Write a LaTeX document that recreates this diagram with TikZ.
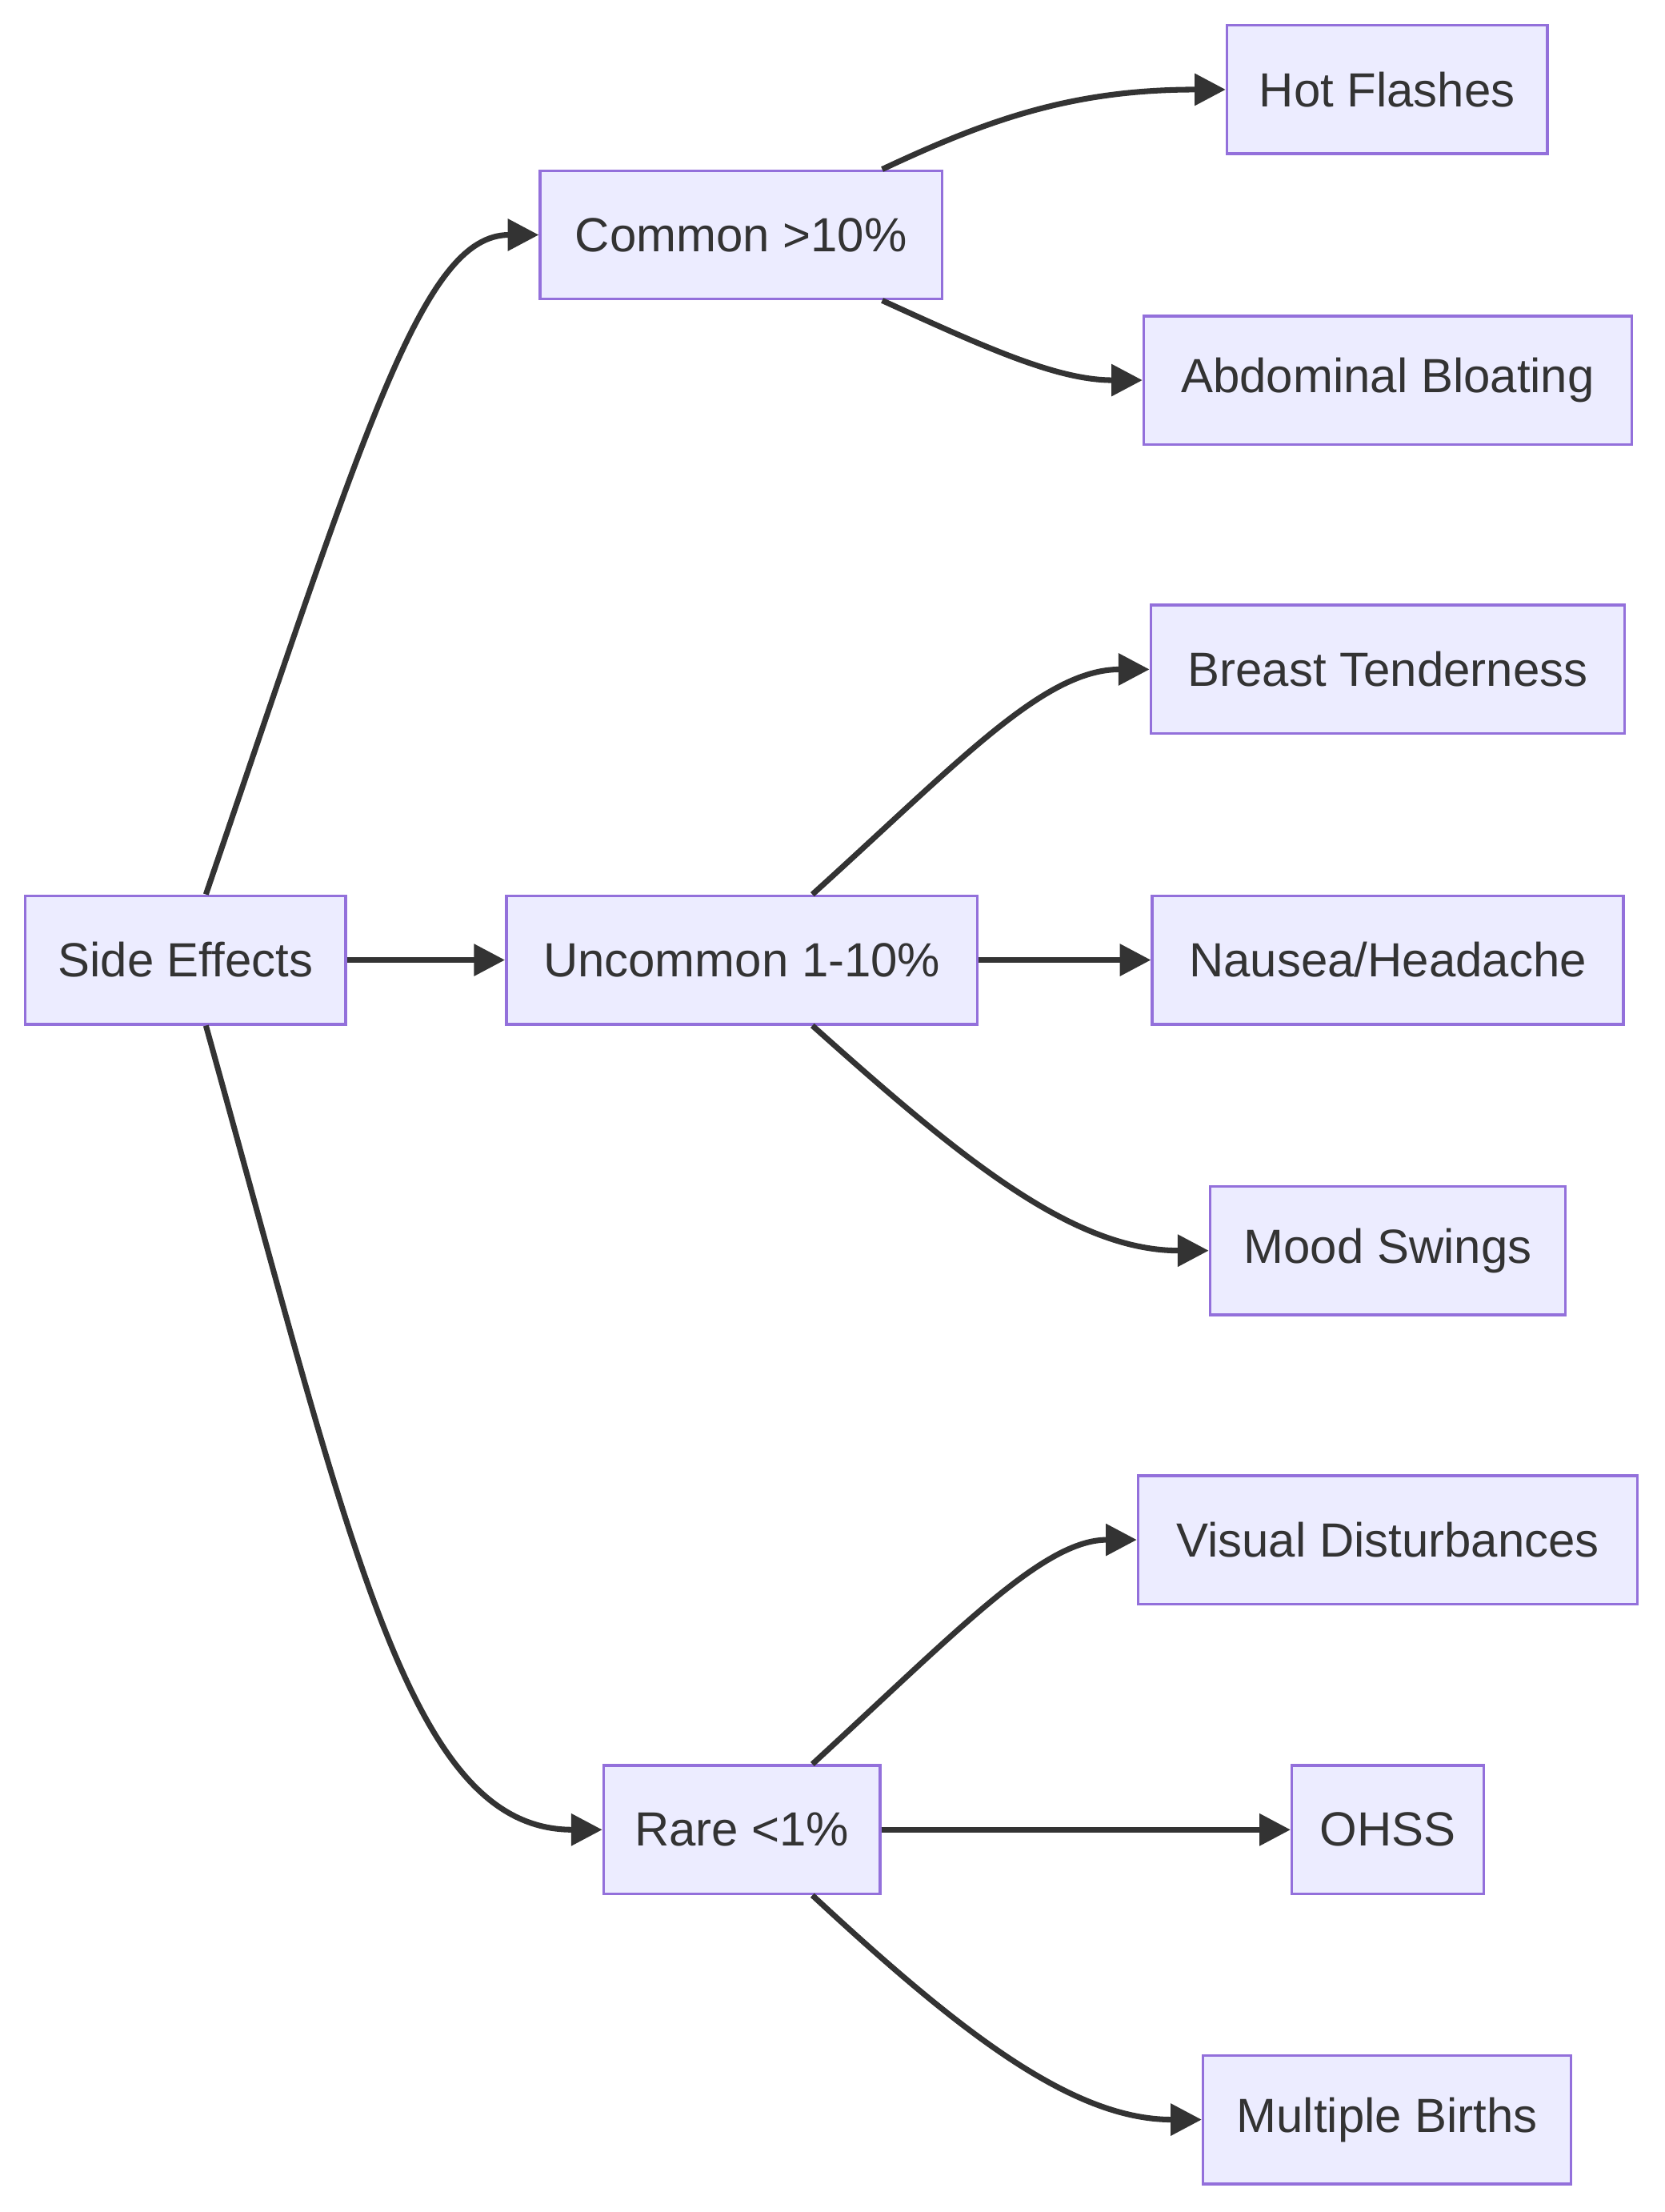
\documentclass[tikz,border=0pt]{standalone}
\usepackage{fontspec}
\setmainfont{Liberation Sans}
\usetikzlibrary{arrows.meta}
\definecolor{nfill}{HTML}{ECECFF}
\definecolor{nline}{HTML}{9370DB}
\definecolor{eline}{HTML}{333333}
\begin{document}
\begin{tikzpicture}[x=1pt,y=-1pt,
  box/.style={draw=nline,fill=nfill,line width=2pt,inner xsep=0pt,inner ysep=0pt,minimum height=91pt,text=eline,font=\fontsize{34}{40}\selectfont},
  edge/.style={draw=eline,line width=4pt,-{Triangle[length=22pt,width=22pt]}}]
\useasboundingbox (0,0) rectangle (1180,1568);
\fill[white] (0,0) rectangle (1180,1568);
\node[box,minimum width=227pt] (se) at (131.5,680.5) {Side Effects};
\node[box,minimum width=285pt] (co) at (525.5,166.5) {Common >10\%};
\node[box,minimum width=334pt] (un) at (526,680.5) {Uncommon 1-10\%};
\node[box,minimum width=196pt] (ra) at (526,1297) {Rare <1\%};
\node[box,minimum width=227pt] (hf) at (983.5,63.5) {Hot Flashes};
\node[box,minimum width=346pt] (ab) at (984,269.5) {Abdominal Bloating};
\node[box,minimum width=336pt] (bt) at (984,474.5) {Breast Tenderness};
\node[box,minimum width=334pt] (nh) at (984,680.5) {Nausea/Headache};
\node[box,minimum width=252pt] (ms) at (984,886.5) {Mood Swings};
\node[box,minimum width=354pt] (vd) at (984,1091.5) {Visual Disturbances};
\node[box,minimum width=136pt] (oh) at (984,1297) {OHSS};
\node[box,minimum width=261pt] (mb) at (983.5,1502.5) {Multiple Births};
\path[edge] ([xshift=14.5pt]se.north) .. controls (260,300) and (300,166.5) .. (co.west);
\path[edge] ([xshift=14.5pt]se.south) .. controls (250,1100) and (290,1297) .. (ra.west);
\path[edge] (se.east) -- (un.west);
\path[edge] ([xshift=100pt]co.north) .. controls (700,85) and (760,63.5) .. (hf.west);
\path[edge] ([xshift=100pt]co.south) .. controls (700,247) and (750,269.5) .. (ab.west);
\path[edge] ([xshift=50pt]un.north) .. controls (680,540) and (740,474.5) .. (bt.west);
\path[edge] (un.east) -- (nh.west);
\path[edge] ([xshift=50pt]un.south) .. controls (680,820) and (760,886.5) .. (ms.west);
\path[edge] ([xshift=50pt]ra.north) .. controls (680,1155) and (740,1091.5) .. (vd.west);
\path[edge] (ra.east) -- (oh.west);
\path[edge] ([xshift=50pt]ra.south) .. controls (680,1440) and (760,1502.5) .. (mb.west);
\end{tikzpicture}
\end{document}
